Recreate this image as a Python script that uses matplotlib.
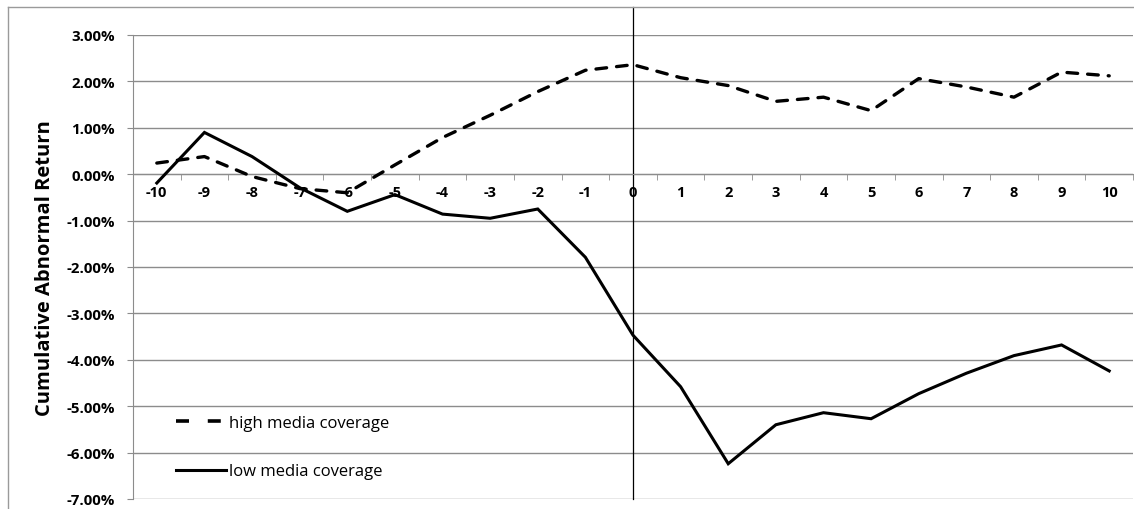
import numpy as np
import matplotlib.pyplot as plt
from matplotlib.ticker import FuncFormatter, MultipleLocator
from matplotlib.lines import Line2D

# event days around the announcement
days = list(range(-10, 11))

# cumulative abnormal return, in percent
car_high = [0.24, 0.38, -0.05, -0.31, -0.40, 0.20, 0.79, 1.27, 1.78, 2.24, 2.36,
            2.08, 1.91, 1.57, 1.66, 1.37, 2.06, 1.88, 1.66, 2.20, 2.12]
car_low = [-0.19, 0.90, 0.38, -0.29, -0.80, -0.44, -0.86, -0.95, -0.75, -1.79, -3.47,
           -4.58, -6.24, -5.40, -5.14, -5.27, -4.73, -4.29, -3.91, -3.68, -4.24]

y_ticks = [3, 2, 1, 0, -1, -2, -3, -4, -5, -6, -7]

plt.rcParams['font.family'] = ['Open Sans', 'DejaVu Sans']
plt.rcParams['axes.unicode_minus'] = False

W, H = 1134, 510
fig = plt.figure(figsize=(W / 100, H / 100), dpi=100)

# outer chart frame (left and top visible)
fig.add_artist(Line2D([8 / W, 8 / W], [0, 1 - 8 / H], color='#9a9a9a', lw=1.0))
fig.add_artist(Line2D([8 / W, 1], [1 - 8 / H, 1 - 8 / H], color='#9a9a9a', lw=1.0))

ax = fig.add_axes([133 / W, 1 - 500 / H, (1133 - 133) / W, (500 - 36) / H])

grid_c = '#8c8c8c'
for v in y_ticks:
    ax.axhline(v, color=grid_c, lw=1.0, zorder=1)

ax.plot(days, car_high, color='black', lw=2.4, dashes=(3.2, 3.0),
        dash_capstyle='round', zorder=3)
ax.plot(days, car_low, color='black', lw=2.2, solid_joinstyle='miter', zorder=3)

# event-day marker, runs up to the top of the chart frame
ax.axvline(0, ymin=0, ymax=(500 - 8) / (500 - 36), color='black', lw=0.9,
           clip_on=False, zorder=2)

ax.set_xlim(-10.5, 10.5)
ax.set_ylim(-7, 3)

for s in ['top', 'right']:
    ax.spines[s].set_visible(False)
ax.spines['left'].set_color(grid_c)
ax.spines['bottom'].set_color(grid_c)
ax.spines['bottom'].set_position(('data', 0))

ax.set_xticks(days)
ax.set_xticks(np.arange(-10.5, 11, 1), minor=True)
ax.tick_params(axis='x', which='major', length=0, pad=8, labelsize=10.5)
ax.tick_params(axis='x', which='minor', length=4, direction='out', color=grid_c)
for lab in ax.get_xticklabels():
    lab.set_fontweight('bold')

ax.yaxis.set_major_locator(MultipleLocator(1))
ax.yaxis.set_major_formatter(FuncFormatter(lambda v, p: f'{v:.2f}%'))
ax.tick_params(axis='y', length=4, direction='out', color=grid_c, pad=9, labelsize=10.8)
for lab in ax.get_yticklabels():
    lab.set_fontweight('bold')

ax.set_ylabel('Cumulative Abnormal Return', fontsize=14.5, fontweight='bold', labelpad=8)

# legend proxies (Excel draws the legend dash with a wider gap)
handles = [Line2D([], [], color='black', lw=2.6, dashes=(3.6, 5.2), dash_capstyle='butt'),
           Line2D([], [], color='black', lw=2.2)]
labels = ['high media coverage', 'low media coverage']
ax.legend(handles, labels, loc='lower left', bbox_to_anchor=(0.028, 0.01), frameon=False,
          fontsize=12, handlelength=3.0, handletextpad=0.2, labelspacing=1.95)

fig.savefig('out.png', dpi=100)
